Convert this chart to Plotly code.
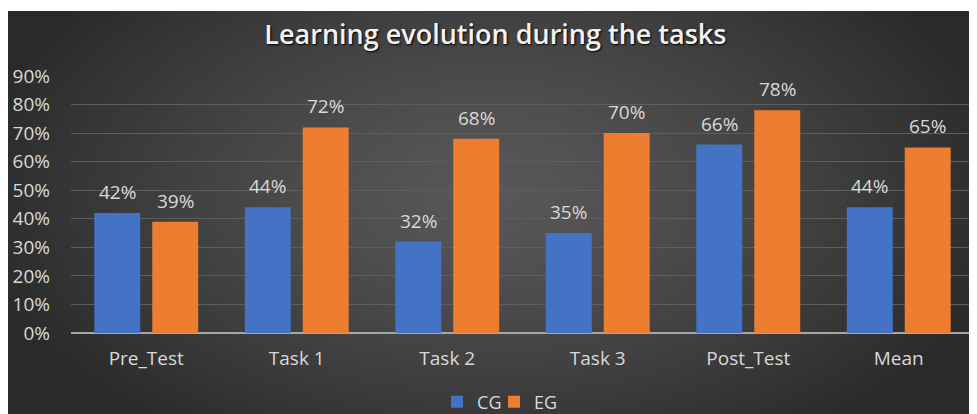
import base64, struct, zlib
import numpy as np
import plotly.graph_objects as go

categories = ["Pre_Test", "Task 1", "Task 2", "Task 3", "Post_Test", "Mean"]
cg_values = [0.42, 0.44, 0.32, 0.35, 0.66, 0.44]
eg_values = [0.39, 0.72, 0.68, 0.70, 0.78, 0.65]
y_ticks = [0, 0.1, 0.2, 0.3, 0.4, 0.5, 0.6, 0.7, 0.8, 0.9]

# page has an 8px body margin; figure sized to fill the rest of the window
W, H = 969, 406
L, R, T, B = 63, 3, 68, 81
BG_X0, BG_X1, BG_Y0, BG_Y1 = 0, 967, 3, 406


def png_data_uri(arr):
    h, w, _ = arr.shape
    raw = b"".join(b"\x00" + arr[r].tobytes() for r in range(h))
    def chunk(tag, data):
        c = struct.pack(">I", len(data)) + tag + data
        return c + struct.pack(">I", zlib.crc32(tag + data) & 0xffffffff)
    png = b"\x89PNG\r\n\x1a\n" + chunk(b"IHDR", struct.pack(">IIBBBBB", w, h, 8, 2, 0, 0, 0)) \
        + chunk(b"IDAT", zlib.compress(raw, 9)) + chunk(b"IEND", b"")
    return "data:image/png;base64," + base64.b64encode(png).decode()


bw, bh = BG_X1 - BG_X0, BG_Y1 - BG_Y0
yy, xx = np.mgrid[0:bh, 0:bw]
dx = (xx - bw * 0.5) / (bw * 0.55)
dy = (yy - bh * 0.45) / (bh * 0.75)
d = np.clip(np.sqrt(dx ** 2 + dy ** 2), 0, 1)
inner, outer = 88, 42
v = (inner + (outer - inner) * d ** 1.3).astype(np.uint8)
img = np.stack([v, v, v], axis=-1)
bg_uri = png_data_uri(img)

pw, ph = W - L - R, H - T - B

fig = go.Figure()
fig.add_trace(go.Bar(name="CG", x=categories, y=cg_values, marker=dict(color="#4472C4", line=dict(width=0))))
fig.add_trace(go.Bar(name="EG", x=categories, y=eg_values, marker=dict(color="#ED7D31", line=dict(width=0))))
# invisible spacer legend entry (not a bar, so it does not take a group slot)
fig.add_trace(go.Scatter(name=" ", x=[None], y=[None], mode="markers", showlegend=True,
                         hoverinfo="skip", marker=dict(color="rgba(0,0,0,0)", size=1)))

off = (1 - 0.23) / 4
label_font = dict(family="Open Sans", size=19, color="#D9D9D9")
for i, (c, e) in enumerate(zip(cg_values, eg_values)):
    for xv, yv in ((i - off, c), (i + off, e)):
        fig.add_annotation(x=xv, y=yv, xref="x", yref="y", text=f"{round(yv*100)}%",
                           showarrow=False, yanchor="bottom", yshift=6, font=label_font)

fig.add_layout_image(dict(source=bg_uri, xref="paper", yref="paper",
                          x=(BG_X0 - L) / pw, y=(H - B - BG_Y0) / ph,
                          sizex=bw / pw, sizey=bh / ph, sizing="stretch",
                          xanchor="left", yanchor="top", layer="below"))

fig.update_layout(
    width=W, height=H,
    margin=dict(l=L, r=R, t=T, b=B, autoexpand=False),
    paper_bgcolor="white", plot_bgcolor="rgba(0,0,0,0)",
    barmode="group", bargap=0.23, bargroupgap=0.207,
    title=dict(text="Learning evolution during the tasks", x=0.503, xanchor="center",
               y=1 - 27 / H, yanchor="middle",
               font=dict(family="Open Sans", size=27, color="#F2F2F2", weight=600,
                         shadow="1px 1px 2px #000")),
    font=dict(family="Open Sans", size=19, color="#D9D9D9"),
    showlegend=True,
    legend=dict(orientation="h", xref="container", x=0.531, xanchor="center", yref="container",
                y=1 - 394 / H, yanchor="middle",
                font=dict(family="Open Sans", size=18, color="#D9D9D9"),
                bgcolor="rgba(0,0,0,0)", entrywidth=12, entrywidthmode="pixels",
                itemsizing="constant", tracegroupgap=0, itemclick=False, itemdoubleclick=False),
    xaxis=dict(showgrid=False, ticks="", tickfont=dict(size=19, color="#D9D9D9"),
               ticklabelstandoff=12, showline=False, automargin=False),
    yaxis=dict(range=[0, 0.9], tickvals=y_ticks, tickformat=".0%",
               gridcolor="#5E5E5E", gridwidth=1, zeroline=True, zerolinecolor="#A6A6A6",
               zerolinewidth=2, tickfont=dict(size=19, color="#D9D9D9"),
               ticklabelstandoff=20, showline=False, automargin=False),
)

fig.write_html("out.html")
